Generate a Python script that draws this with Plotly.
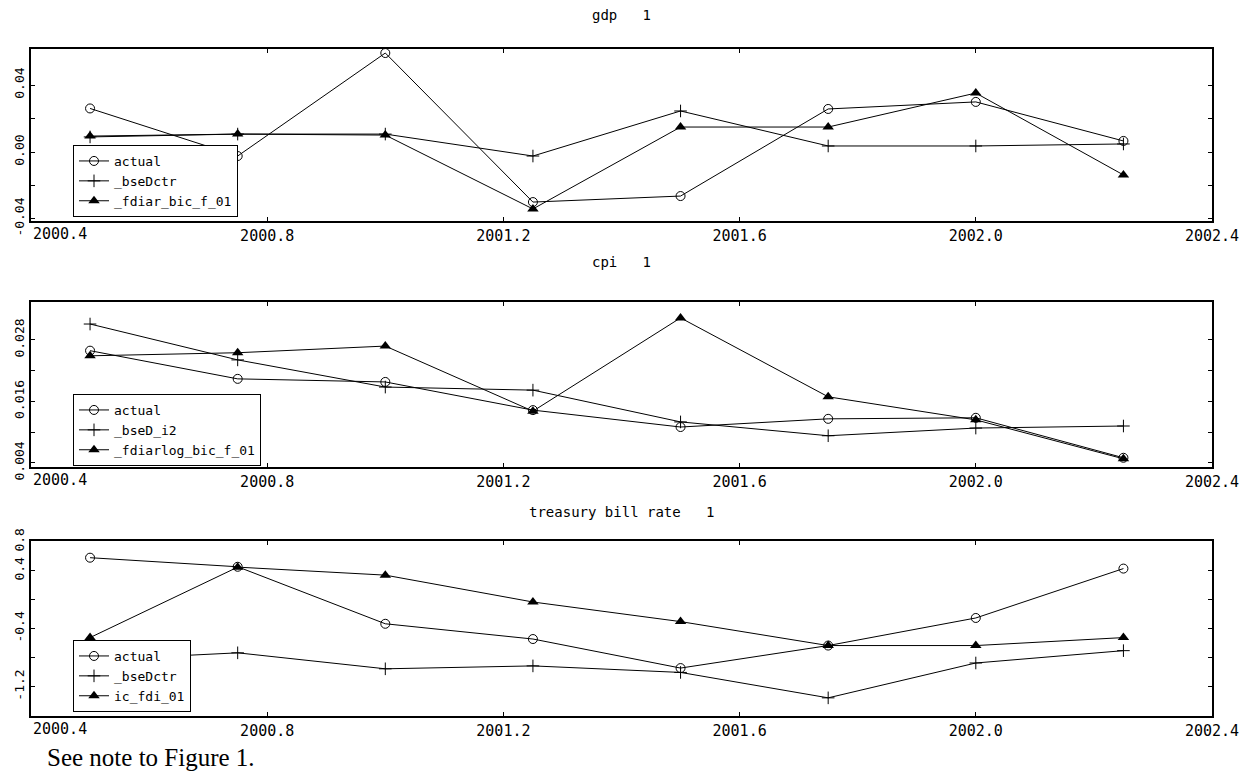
import plotly.graph_objects as go

# Quarterly forecast dates
dates = [2000.5, 2000.75, 2001.0, 2001.25, 2001.5, 2001.75, 2002.0, 2002.25]

# gdp panel
gdp_actual = [0.026, -0.0024, 0.0591, -0.0299, -0.0263, 0.0257, 0.0299, 0.0066]
gdp_bse = [0.009, 0.0107, 0.0107, -0.0024, 0.0245, 0.0036, 0.0036, 0.0048]
gdp_fdi = [0.0095, 0.0107, 0.0101, -0.034, 0.0149, 0.0149, 0.0352, -0.0137]

# cpi panel
cpi_actual = [0.0259, 0.0204, 0.0198, 0.0143, 0.0110, 0.0126, 0.0128, 0.0050]
cpi_bse = [0.0311, 0.0241, 0.0188, 0.0182, 0.0120, 0.0093, 0.0108, 0.0112]
cpi_fdi = [0.0249, 0.0255, 0.0268, 0.0141, 0.0323, 0.0169, 0.0124, 0.0048]

# treasury bill rate panel
tb_actual = [0.58, 0.455, -0.33, -0.54, -0.94, -0.63, -0.25, 0.43]
tb_bse = [-0.83, -0.73, -0.95, -0.91, -1.0, -1.35, -0.87, -0.70]
tb_fdi = [-0.52, 0.45, 0.34, -0.03, -0.30, -0.63, -0.63, -0.52]

panel_titles = ["gdp   1", "cpi   1", "treasury bill rate   1"]
series_names = [
    ["actual", "_bseDctr", "_fdiar_bic_f_01"],
    ["actual", "_bseD_i2", "_fdiarlog_bic_f_01"],
    ["actual", "_bseDctr", "ic_fdi_01"],
]
panel_values = [
    [gdp_actual, gdp_bse, gdp_fdi],
    [cpi_actual, cpi_bse, cpi_fdi],
    [tb_actual, tb_bse, tb_fdi],
]

x_ticks = [2000.4, 2000.8, 2001.2, 2001.6, 2002.0, 2002.4]
x_ticklabels = ["2000.4", "2000.8", "2001.2", "2001.6", "2002.0", "2002.4"]

y_ticks = [
    [-0.04, -0.02, 0.0, 0.02, 0.04],
    [0.004, 0.010, 0.016, 0.022, 0.028],
    [-1.6, -1.2, -0.8, -0.4, 0.0, 0.4, 0.8],
]
y_ticklabels = [
    ["-0.04", "", "0.00", "", "0.04"],
    ["0.004", "", "0.016", "", "0.028"],
    ["", "-1.2", "", "-0.4", "", "0.4", "0.8"],
]
y_ranges = [[-0.0412, 0.0615], [0.0032, 0.0354], [-1.6, 0.81]]

W, H = 1252, 773
# panel boxes in pixels: (top, bottom)
boxes = [(49, 221), (302, 467), (541, 716)]
x_left, x_right = 31, 1212
title_y = [15, 262, 512]
legend_bottom = [217, 466, 712]

font_axis = "DejaVu Sans Mono"
markers = [
    dict(symbol="circle-open", size=9, color="black", line=dict(width=1, color="black")),
    dict(symbol="cross-thin-open", size=9, color="black", line=dict(width=1, color="black")),
    dict(symbol="triangle-up", size=10, color="black", line=dict(width=0)),
]

fig = go.Figure()
layout = dict(
    width=W, height=H,
    margin=dict(l=0, r=0, t=0, b=0, autoexpand=False),
    paper_bgcolor="white", plot_bgcolor="white",
    font=dict(family=font_axis, size=12, color="black"),
    showlegend=True,
)
annotations = []

for p in range(3):
    xa = "x" if p == 0 else f"x{p + 1}"
    ya = "y" if p == 0 else f"y{p + 1}"
    leg = "legend" if p == 0 else f"legend{p + 1}"
    for s in range(3):
        fig.add_trace(go.Scatter(
            x=dates, y=panel_values[p][s], name=series_names[p][s],
            mode="lines+markers", xaxis=xa, yaxis=ya, legend=leg,
            line=dict(color="black", width=1), marker=markers[s],
        ))
    top, bottom = boxes[p]
    axis_common = dict(
        showline=True, linecolor="black", linewidth=2, mirror="ticks",
        ticks="inside", ticklen=4, tickcolor="black", tickwidth=1,
        showgrid=False, zeroline=False, automargin=False,
    )
    xkey = "xaxis" if p == 0 else f"xaxis{p + 1}"
    ykey = "yaxis" if p == 0 else f"yaxis{p + 1}"
    layout[xkey] = dict(
        axis_common, domain=[x_left / W, x_right / W], range=[2000.4, 2002.4],
        tickvals=x_ticks,
        ticktext=[""] + x_ticklabels[1:],
        tickfont=dict(family=font_axis, size=15, color="black"),
        anchor=ya,
    )
    layout[ykey] = dict(
        axis_common, domain=[1 - bottom / H, 1 - top / H], range=y_ranges[p],
        tickvals=y_ticks[p], ticktext=y_ticklabels[p], tickangle=-90,
        tickfont=dict(family=font_axis, size=13, color="black"),
        anchor=xa,
    )
    # the first x label starts at the frame edge
    annotations.append(dict(
        x=x_ticks[0], y=1 - (bottom + 2) / H, xref=xa, yref="paper",
        text=x_ticklabels[0], showarrow=False, xanchor="left", yanchor="top",
        font=dict(family=font_axis, size=15, color="black"),
    ))
    annotations.append(dict(
        x=(x_left + x_right) / 2 / W, y=1 - title_y[p] / H, xref="paper", yref="paper",
        text=panel_titles[p], showarrow=False, xanchor="center", yanchor="middle",
        font=dict(family=font_axis, size=14, color="black"),
    ))
    layout[leg] = dict(
        x=73 / W, y=1 - legend_bottom[p] / H, xanchor="left", yanchor="bottom",
        bgcolor="white", bordercolor="black", borderwidth=1,
        font=dict(family=font_axis, size=13, color="black"),
        itemwidth=30, tracegroupgap=0,
    )

annotations.append(dict(
    x=45 / W, y=1 - 757 / H, xref="paper", yref="paper",
    text="See note to Figure 1.", showarrow=False, xanchor="left", yanchor="middle",
    font=dict(family="Liberation Serif", size=25, color="black"),
))
layout["annotations"] = annotations
fig.update_layout(**layout)
fig.write_html("out.html")
